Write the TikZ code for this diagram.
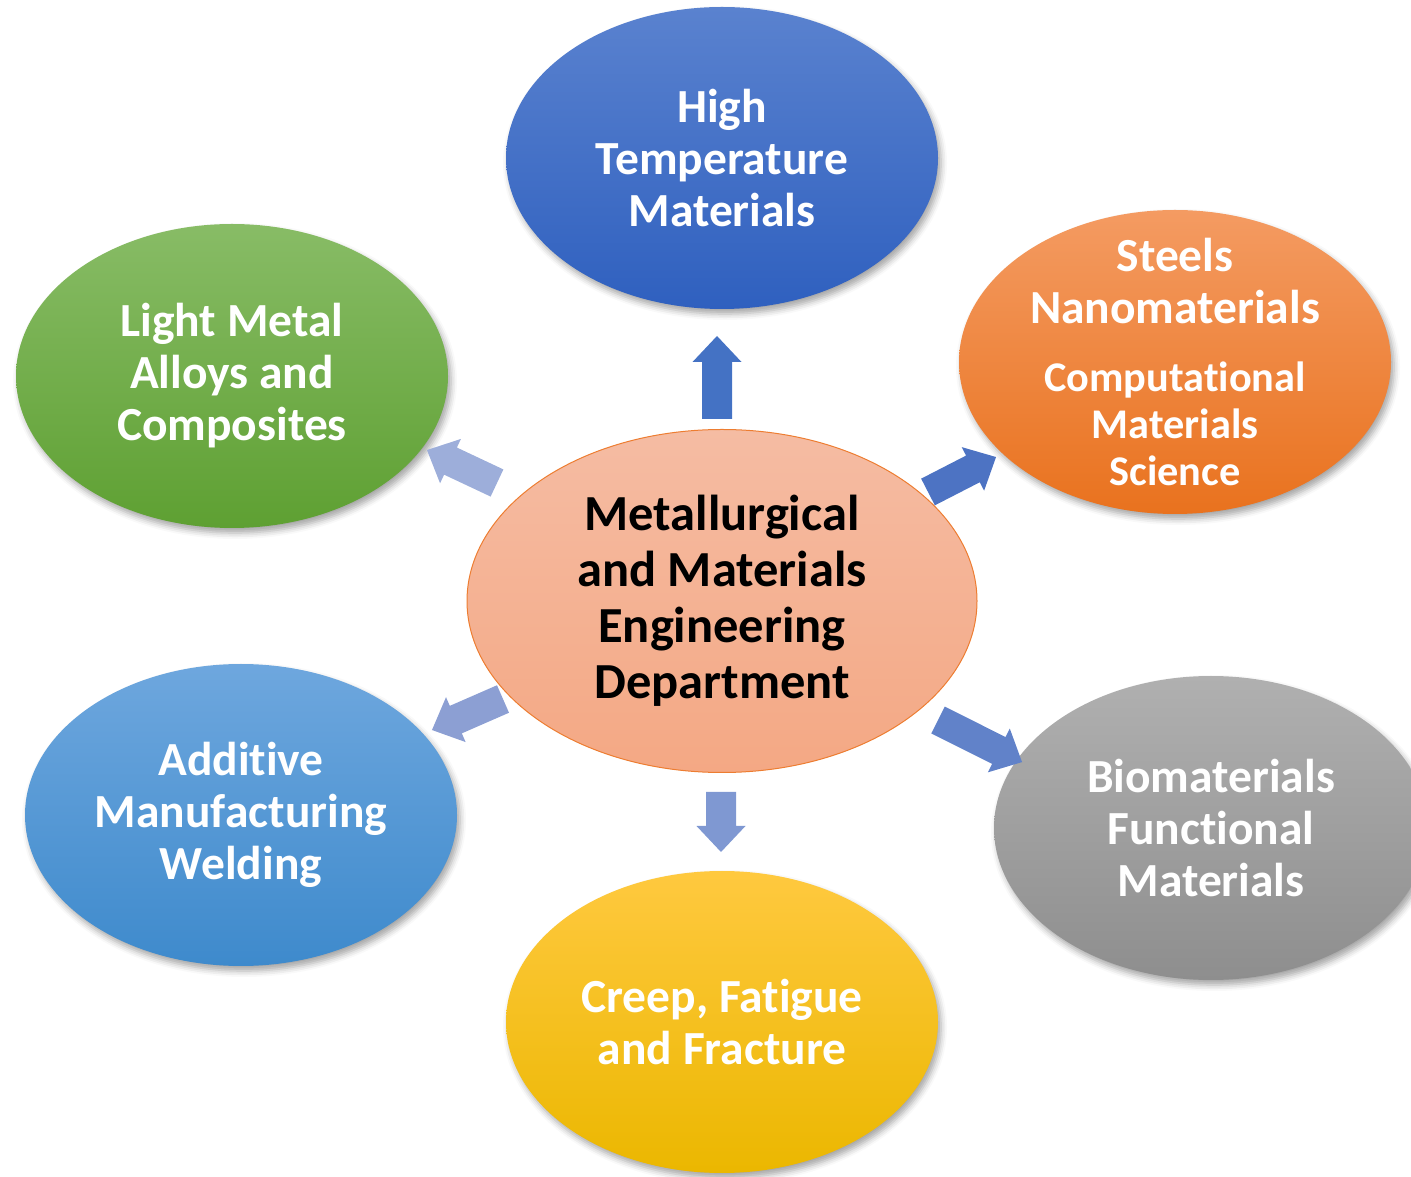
\documentclass[tikz,border=0pt]{standalone}
\usepackage{fontspec}
\setmainfont{Carlito}[RawFeature={-liga;-clig;-dlig;-calt;-rlig}]
\usetikzlibrary{shapes.geometric,shadows.blur}
\definecolor{bluetop}{HTML}{5A82CF}\definecolor{bluebot}{HTML}{2F60BF}
\definecolor{orgtop}{HTML}{F49B62}\definecolor{orgbot}{HTML}{E9721E}
\definecolor{grntop}{HTML}{88BC66}\definecolor{grnbot}{HTML}{5EA032}
\definecolor{lbtop}{HTML}{6EA7DE}\definecolor{lbbot}{HTML}{3E8ACC}
\definecolor{yeltop}{HTML}{FFC93F}\definecolor{yelbot}{HTML}{EBB700}
\definecolor{grytop}{HTML}{B0B0B0}\definecolor{grybot}{HTML}{8E8E8E}
\definecolor{ctrtop}{HTML}{F5BCA3}\definecolor{ctrbot}{HTML}{F4A884}
\definecolor{ctrline}{HTML}{ED7D31}
\definecolor{arrA}{HTML}{4472C4}\definecolor{arrB}{HTML}{4D73C3}
\definecolor{arrC}{HTML}{9DAEDA}\definecolor{arrD}{HTML}{8C9FD3}
\definecolor{arrE}{HTML}{7F98D2}\definecolor{arrF}{HTML}{6182C9}
% name, tail x, tail y, angle, length, colour
\newcommand{\blockarrow}[6]{%
  \begin{scope}[shift={(#2,#3)}, rotate=#4]
    \fill[#6] (0,-15) -- (#5-26,-15) -- (#5-26,-24.5) -- (#5,0) -- (#5-26,24.5) -- (#5-26,15) -- (0,15) -- cycle;
    \coordinate (#1) at (#5,0);
  \end{scope}}
\newcommand{\nolig}{\kern0pt }
\begin{document}
\begin{tikzpicture}[x=1pt,y=1pt,
  bubble/.style={ellipse, minimum width=432pt, minimum height=302pt, inner sep=0pt,
    blur shadow={shadow xshift=3pt, shadow yshift=-5pt, shadow blur radius=6pt, shadow opacity=35}},
  txt/.style={text=white, align=center, inner sep=0pt, font=\fontsize{47.5}{52}\selectfont\bfseries},
  smalltxt/.style={txt, font=\fontsize{42.3}{47}\selectfont\bfseries},
  ctxt/.style={text=black, align=center, inner sep=0pt, font=\fontsize{50.5}{56}\selectfont\bfseries}]
\useasboundingbox (0,0) rectangle (1411,1176);
\clip (0,0) rectangle (1411,1176);

% outer bubbles
\node[bubble, top color=bluetop, bottom color=bluebot] (high) at (722,1018) {};
\node[bubble, top color=orgtop, bottom color=orgbot, minimum height=304pt] (steel) at (1175,814) {};
\node[bubble, top color=grntop, bottom color=grnbot, minimum height=304pt] (light) at (232,800) {};
\node[bubble, top color=lbtop, bottom color=lbbot] (additive) at (241,361) {};
\node[bubble, top color=yeltop, bottom color=yelbot] (creep) at (722,154) {};
\node[bubble, top color=grytop, bottom color=grybot, minimum width=434pt, minimum height=304pt] (bio) at (1211,348) {};

\node[txt] (hightext) at (high) {High\\Temperature\\Materials};
\node[txt] (steeltext) at (1175,895) {Steels\\Nanomaterials};
\node[smalltxt] (comptext) at (1175,752) {Computat\nolig ional\\Materials\\Science};
\node[txt] (lighttext) at (light) {Light Metal\\Alloys and\\Composites};
\node[txt] (addtext) at (additive) {Addit\nolig ive\\Manufacturing\\Welding};
\node[txt] (creeptext) at (creep) {Creep, Fatigue\\and Fracture};
\node[txt] (biotext) at (bio) {Biomaterials\\Funct\nolig ional\\Materials};

% centre
\node[ellipse, minimum width=510pt, minimum height=343pt, inner sep=0pt,
  top color=ctrtop, bottom color=ctrbot, draw=ctrline, line width=1pt] (center) at (722,575) {};
\node[ctxt] (centertext) at (center) {Metallurgical\\and Materials\\Engineering\\Department};

% block arrows
\blockarrow{toHigh}{717}{757}{90}{83}{arrA}
\blockarrow{toSteel}{928}{684}{27.2}{76.5}{arrB}
\blockarrow{toLight}{497}{693}{154.8}{77.4}{arrC}
\blockarrow{toAdd}{503}{477}{203.6}{77.5}{arrD}
\blockarrow{toCreep}{721}{384}{270}{60}{arrE}
\blockarrow{toBio}{938}{456}{-26.6}{94}{arrF}
\end{tikzpicture}
\end{document}
